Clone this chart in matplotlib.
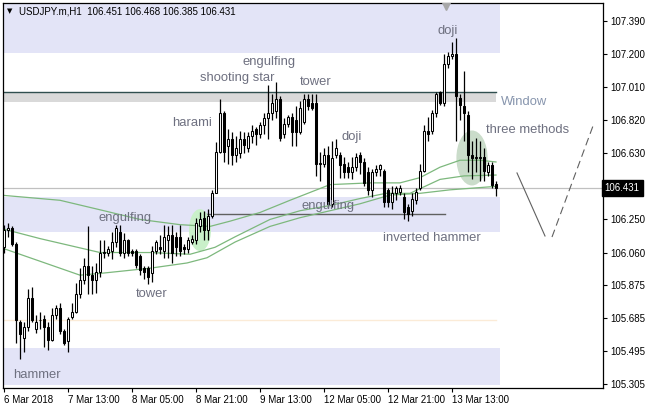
import numpy as np
import matplotlib
matplotlib.use("Agg")
import matplotlib.pyplot as plt
from matplotlib.patches import Ellipse
import matplotlib.transforms as mtransforms

# H1 candles, first bar = 6 Mar 2018 21:00
opens = [106.09, 106.19, 106.20, 106.11, 105.66, 105.57, 105.63, 105.80, 105.62, 105.67,
         105.68, 105.63, 105.56, 105.70, 105.74, 105.61, 105.55, 105.69, 105.72, 105.82,
         105.90, 105.98, 105.93, 105.90, 105.95, 106.06, 106.06, 106.07, 106.12, 106.18,
         106.06, 106.13, 106.07, 106.07, 106.04, 105.97, 105.97, 105.94, 106.07, 106.09,
         106.07, 106.13, 106.16, 106.15, 106.15, 106.09, 106.08, 106.12, 106.13, 106.21,
         106.26, 106.19, 106.27, 106.40, 106.64, 106.86, 106.67, 106.71, 106.62, 106.63,
         106.71, 106.66, 106.73, 106.77, 106.74, 106.79, 106.83, 106.86, 106.87, 106.94,
         106.74, 106.80, 106.84, 106.82, 106.75, 106.81, 106.94, 106.92, 106.92, 106.57,
         106.57, 106.62, 106.34, 106.62, 106.62, 106.57, 106.55, 106.52, 106.55, 106.62,
         106.58, 106.52, 106.42, 106.52, 106.54, 106.53, 106.42, 106.35, 106.40, 106.41,
         106.38, 106.32, 106.30, 106.36, 106.43, 106.53, 106.76, 106.76, 106.86, 106.98,
         106.92, 107.14, 107.19, 107.20, 106.95, 106.90, 106.85, 106.62, 106.60, 106.60,
         106.61, 106.52, 106.56, 106.451]
highs = [106.22, 106.23, 106.21, 106.12, 105.67, 105.66, 105.85, 105.86, 105.70, 105.72,
         105.70, 105.66, 105.74, 105.76, 105.77, 105.62, 105.69, 105.77, 105.885, 105.97,
         106.03, 106.21, 105.98, 106.00, 106.13, 106.13, 106.10, 106.18, 106.22, 106.22,
         106.17, 106.14, 106.08, 106.08, 106.05, 105.98, 105.98, 106.10, 106.13, 106.16,
         106.22, 106.21, 106.22, 106.18, 106.22, 106.11, 106.15, 106.16, 106.26, 106.29,
         106.30, 106.31, 106.42, 106.695, 106.94, 106.87, 106.77, 106.75, 106.73, 106.76,
         106.75, 106.75, 106.79, 106.78, 106.81, 106.86, 107.02, 106.97, 107.04, 106.96,
         106.83, 106.85, 106.86, 106.90, 106.93, 106.97, 106.97, 106.97, 106.97, 106.64,
         106.66, 106.67, 106.70, 106.71, 106.64, 106.61, 106.58, 106.61, 106.63, 106.64,
         106.60, 106.55, 106.54, 106.56, 106.57, 106.54, 106.43, 106.44, 106.44, 106.45,
         106.40, 106.34, 106.40, 106.43, 106.57, 106.79, 106.84, 106.88, 106.98, 106.99,
         107.20, 107.21, 107.27, 107.29, 106.97, 107.10, 106.87, 106.70, 106.72, 106.70,
         106.66, 106.58, 106.58, 106.468]
lows = [106.06, 106.15, 106.10, 105.54, 105.45, 105.49, 105.61, 105.66, 105.60, 105.62,
        105.52, 105.50, 105.55, 105.68, 105.59, 105.53, 105.49, 105.68, 105.71, 105.80,
        105.88, 105.82, 105.82, 105.83, 105.92, 106.03, 106.04, 106.02, 106.09, 106.04,
        106.03, 106.04, 106.04, 105.97, 105.93, 105.91, 105.88, 105.89, 106.05, 106.05,
        106.03, 106.03, 106.00, 106.04, 106.04, 106.05, 106.06, 106.11, 106.11, 106.18,
        106.13, 106.13, 106.26, 106.40, 106.63, 106.58, 106.57, 106.56, 106.58, 106.60,
        106.63, 106.64, 106.69, 106.68, 106.72, 106.74, 106.71, 106.82, 106.83, 106.70,
        106.72, 106.78, 106.67, 106.67, 106.74, 106.80, 106.88, 106.88, 106.50, 106.47,
        106.55, 106.32, 106.32, 106.60, 106.49, 106.49, 106.49, 106.48, 106.53, 106.51,
        106.44, 106.39, 106.38, 106.50, 106.50, 106.32, 106.32, 106.31, 106.36, 106.39,
        106.25, 106.24, 106.27, 106.34, 106.42, 106.52, 106.70, 106.74, 106.84, 106.91,
        106.90, 107.12, 107.17, 106.70, 106.82, 106.70, 106.52, 106.48, 106.52, 106.47,
        106.47, 106.50, 106.43, 106.385]
closes = [106.19, 106.20, 106.11, 105.67, 105.59, 105.63, 105.80, 105.67, 105.66, 105.67,
          105.63, 105.56, 105.70, 105.74, 105.61, 105.54, 105.68, 105.72, 105.82, 105.90,
          105.98, 105.93, 105.90, 105.95, 106.06, 106.065, 106.08, 106.12, 106.20, 106.06,
          106.13, 106.06, 106.06, 105.99, 105.96, 105.95, 105.92, 106.07, 106.12, 106.08,
          106.15, 106.16, 106.06, 106.09, 106.07, 106.08, 106.13, 106.14, 106.23, 106.25,
          106.19, 106.27, 106.40, 106.64, 106.86, 106.64, 106.71, 106.62, 106.66, 106.71,
          106.68, 106.73, 106.76, 106.74, 106.79, 106.83, 106.86, 106.92, 106.94, 106.72,
          106.80, 106.84, 106.75, 106.75, 106.89, 106.94, 106.90, 106.89, 106.57, 106.575,
          106.62, 106.34, 106.60, 106.66, 106.56, 106.52, 106.52, 106.55, 106.61, 106.58,
          106.46, 106.42, 106.52, 106.54, 106.56, 106.35, 106.35, 106.40, 106.43, 106.43,
          106.29, 106.28, 106.37, 106.41, 106.53, 106.76, 106.74, 106.86, 106.97, 106.92,
          107.14, 107.19, 107.20, 106.96, 106.91, 106.86, 106.62, 106.60, 106.61, 106.61,
          106.53, 106.56, 106.45, 106.431]

# moving averages (bar index, price)
ma_slow_x = [-1, 14, 25, 34, 44, 51.5, 56.5, 64, 71.5, 81.5, 91.5, 99, 104, 109, 114, 119, 123]
ma_slow_y = [106.39, 106.36, 106.30, 106.25, 106.22, 106.21, 106.24, 106.29, 106.36, 106.45,
             106.46, 106.46, 106.49, 106.55, 106.59, 106.59, 106.58]
ma_mid_x = [-1, 9, 24, 36.5, 46.5, 52.75, 57.75, 66.5, 74, 81.5, 89, 95.5, 101.5, 109, 115, 123]
ma_mid_y = [106.20, 106.14, 106.06, 106.06, 106.05, 106.09, 106.15, 106.25, 106.30, 106.33,
            106.37, 106.40, 106.40, 106.48, 106.50, 106.505]
ma_fast_x = [-1, 9, 19, 24, 36.5, 45.75, 50.75, 57.75, 66.5, 74, 81.5, 89, 96.5, 104, 111.5, 123]
ma_fast_y = [106.09, 106.01, 105.93, 105.94, 105.97, 106.00, 106.03, 106.12, 106.21, 106.26,
             106.30, 106.34, 106.39, 106.40, 106.42, 106.44]

last_price = 106.431
xtick_pos = [0, 16, 32, 48, 64, 80, 96, 112]
xtick_labels = ["6 Mar 2018", "7 Mar 13:00", "8 Mar 05:00", "8 Mar 21:00",
                "9 Mar 13:00", "12 Mar 05:00", "12 Mar 21:00", "13 Mar 13:00"]
ytick_vals = [105.305, 105.495, 105.685, 105.875, 106.060, 106.250,
              106.630, 106.820, 107.010, 107.200, 107.390]

# chart objects
zones = [(107.206, 107.493), (106.178, 106.379), (105.299, 105.512)]   # lavender rectangles
window_zone = (106.925, 106.982)
support_level = 106.281
orange_level = 105.673
v_left_x, v_left_y = [128.25, 135.25], [106.517, 106.155]
v_right_x, v_right_y = [137.0, 147.25], [106.149, 106.787]

labels = [
    ("doji", 111.0, 107.335), ("engulfing", 66.25, 107.155), ("shooting star", 58.25, 107.063),
    ("tower", 78.0, 107.040), ("harami", 47.0, 106.804), ("Window", 130.0, 106.925),
    ("three methods", 131.0, 106.764), ("doji", 87.0, 106.724), ("engulfing", 30.25, 106.258),
    ("engulfing", 81.0, 106.327), ("inverted hammer", 107.0, 106.142), ("tower", 37.0, 105.822),
    ("hammer", 8.25, 105.357),
]

fig = plt.figure(figsize=(6.45, 4.08), dpi=100)
ax = fig.add_axes([3 / 645, 20 / 408, 600 / 645, 385 / 408])
ax.set_xlim(-0.25, 149.75)
ax.set_ylim(105.282, 107.493)

for lo, hi in zones:
    ax.fill_between([-0.25, 124.0], lo, hi, color="#E3E4F7", lw=0, zorder=0)
ax.fill_between([-0.25, 123.0], window_zone[0], window_zone[1], color="#D9D9D9", lw=0, zorder=0.5)
ax.plot([-0.25, 123.0], [window_zone[1]] * 2, color="#2F4F4F", lw=1.0, zorder=1)
ax.plot([-0.25, 123.0], [orange_level] * 2, color="#FBEBD7", lw=1.0, zorder=1)
ax.axhline(last_price, color="#C0C0C0", lw=0.9, zorder=1)
ax.plot([49.0, 110.25], [support_level] * 2, color="#606060", lw=1.0, zorder=1)

ax.add_patch(Ellipse((49.0, 106.189), 5.5, 0.241, color="#C9F0C9", lw=0, zorder=1.5))
ax.add_patch(Ellipse((117.0, 106.603), 7.8, 0.316, color="#CADCCA", lw=0, zorder=1.5))

for mx, my in [(ma_slow_x, ma_slow_y), (ma_mid_x, ma_mid_y), (ma_fast_x, ma_fast_y)]:
    ax.plot(mx, my, color="#7DB87D", lw=0.9, zorder=2)

ax.plot(v_left_x, v_left_y, color="#606060", lw=0.8)
ax.plot(v_right_x, v_right_y, color="#606060", lw=0.8, dashes=(7, 4))

idx = np.arange(len(opens))
o = np.array(opens)
c = np.array(closes)
ax.vlines(idx, lows, highs, color="black", lw=0.9, zorder=3)
bull = c >= o
body_lo = np.minimum(o, c)
body_h = np.abs(c - o)
ax.bar(idx[bull], body_h[bull], bottom=body_lo[bull], width=0.5,
       facecolor="white", edgecolor="black", lw=0.75, zorder=4)
ax.bar(idx[~bull], body_h[~bull], bottom=body_lo[~bull], width=0.5,
       facecolor="black", edgecolor="black", lw=0.75, zorder=4)

for txt, lx, ly in labels:
    col = "#8795AD" if txt == "Window" else "#6E7080"
    ax.text(lx, ly, txt, ha="center", va="center", fontsize=9.4,
            family="Liberation Sans", color=col, zorder=6)

ax.plot([110.4], [107.478], marker="v", color="#A8A8A8", ms=6, zorder=6)

for sp in ax.spines.values():
    sp.set_color("black")
    sp.set_linewidth(0.9)

ax.yaxis.tick_right()
ax.set_yticks(ytick_vals)
ax.set_yticklabels([f"{v:.3f}" for v in ytick_vals], family="Liberation Sans")
ax.set_xticks(xtick_pos)
ax.set_xticklabels(xtick_labels, ha="left", family="Liberation Sans")
ax.tick_params(axis="both", direction="out", length=3, width=0.8, labelsize=7,
               colors="black", pad=2)
ax.tick_params(axis="y", pad=2)

trans = mtransforms.blended_transform_factory(ax.transAxes, ax.transData)
ax.text(1.003, last_price, "106.431", transform=trans, ha="left", va="center",
        fontsize=7, color="white", family="Liberation Sans",
        bbox=dict(boxstyle="square,pad=0.3", facecolor="black", edgecolor="black"))

fig.text(7 / 645, 1 - 11 / 408, "\u25bc", fontsize=5, va="center", ha="left")
fig.text(19 / 645, 1 - 11 / 408, "USDJPY.m,H1  106.451 106.468 106.385 106.431",
         fontsize=7, va="center", ha="left", family="Liberation Sans")

fig.savefig("out.png", dpi=100)
